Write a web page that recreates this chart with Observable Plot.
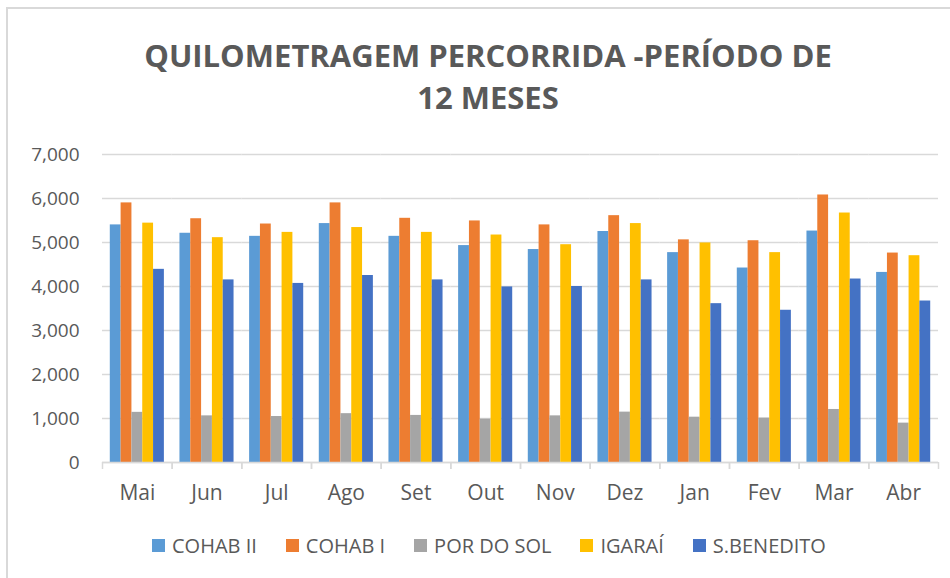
<!DOCTYPE html>
<html>
<head>
<meta charset="utf-8">
<script src="https://cdn.jsdelivr.net/npm/d3@7"></script>
<script src="https://cdn.jsdelivr.net/npm/@observablehq/plot@0.6"></script>
<style>
  html, body { margin: 0; padding: 0; background: #fff; }
  #chart { position: relative; width: 950px; height: 578px; overflow: hidden; font-family: "Open Sans", sans-serif; color: #595959; }
  #border { position: absolute; left: 6px; top: 7px; width: 1000px; height: 700px; border: 2px solid #d9d9d9; box-sizing: border-box; }
  #title { position: absolute; left: 0; top: 34px; width: 976px; text-align: center; font-weight: 700; font-size: 31px; line-height: 42px; color: #595959; }
  #plot { position: absolute; left: 0; top: 0; }
  #legend { position: absolute; left: 152px; top: 534px; display: flex; gap: 29px; font-size: 20px; line-height: 24px; white-space: nowrap; }
  .item { display: flex; align-items: center; }
  .sw { width: 13px; height: 13px; margin-right: 7px; margin-top: -1px; }
</style>
</head>
<body>
<div id="chart">
  <div id="border"></div>
  <div id="title">QUILOMETRAGEM PERCORRIDA -PERÍODO DE<br>12 MESES</div>
  <div id="plot"></div>
  <div id="legend"></div>
</div>
<script>
const months = ["Mai","Jun","Jul","Ago","Set","Out","Nov","Dez","Jan","Fev","Mar","Abr"];
const seriesNames = ["COHAB II","COHAB I","POR DO SOL","IGARAÍ","S.BENEDITO"];
const seriesColors = ["#5B9BD5","#ED7D31","#A5A5A5","#FFC000","#4472C4"];
const cohab2    = [5400,5210,5140,5430,5140,4930,4840,5250,4770,4420,5260,4320];
const cohab1    = [5900,5540,5420,5900,5550,5490,5400,5610,5060,5040,6080,4760];
const porDoSol  = [1140,1060,1045,1110,1070, 985,1060,1145,1030,1010,1205, 895];
const igarai    = [5440,5110,5230,5340,5230,5170,4950,5430,4990,4770,5670,4700];
const sBenedito = [4390,4150,4070,4250,4150,3990,4000,4150,3610,3460,4170,3670];
const yTicks = [0,1000,2000,3000,4000,5000,6000,7000];

const seriesValues = [cohab2, cohab1, porDoSol, igarai, sBenedito];
const data = [];
months.forEach((m, i) => {
  seriesNames.forEach((s, j) => data.push({month: m, series: s, value: seriesValues[j][i]}));
});

const W = 950, H = 578, ML = 102, MR = 12, MT = 154, MB = 116;
const halfBand = (W - ML - MR) / months.length / 2;
const textColor = "#595959";

const chart = Plot.plot({
  width: W, height: H,
  marginLeft: ML, marginRight: MR, marginTop: MT, marginBottom: MB,
  style: {fontFamily: "Open Sans, sans-serif", color: textColor, background: "transparent", overflow: "visible"},
  fx: {domain: months, padding: 0, axis: null, label: null, round: false},
  x: {domain: seriesNames, paddingInner: 0, paddingOuter: 0.72, axis: null, round: false},
  y: {domain: [0, 7000], axis: null},
  color: {domain: seriesNames, range: seriesColors},
  marks: [
    Plot.gridY(yTicks, {stroke: "#d9d9d9", strokeOpacity: 1, strokeWidth: 1.5}),
    Plot.barY(data, {fx: "month", x: "series", y: "value", fill: "series", inset: 0}),
    Plot.ruleY([0], {stroke: "#d9d9d9", strokeWidth: 1.5}),
    Plot.axisY(yTicks, {tickSize: 0, tickPadding: 23, tickFormat: d3.format(","), fontSize: 19, fill: textColor, label: null}),
    Plot.axisFx({anchor: "bottom", tickSize: 0, tickPadding: 23, fontSize: 21, fill: textColor, label: null}),
    Plot.axisFx({anchor: "bottom", tickSize: 7, tickFormat: () => "", stroke: "#d9d9d9", strokeWidth: 1.5, label: null, dx: -halfBand}),
    Plot.axisFx({anchor: "bottom", tickSize: 7, tickFormat: () => "", stroke: "#d9d9d9", strokeWidth: 1.5, label: null, dx: halfBand})
  ]
});
document.getElementById("plot").appendChild(chart);

const legend = document.getElementById("legend");
seriesNames.forEach((s, j) => {
  const item = document.createElement("div");
  item.className = "item";
  const sw = document.createElement("span");
  sw.className = "sw";
  sw.style.background = seriesColors[j];
  const t = document.createElement("span");
  t.textContent = s;
  item.appendChild(sw);
  item.appendChild(t);
  legend.appendChild(item);
});
</script>
</body>
</html>
